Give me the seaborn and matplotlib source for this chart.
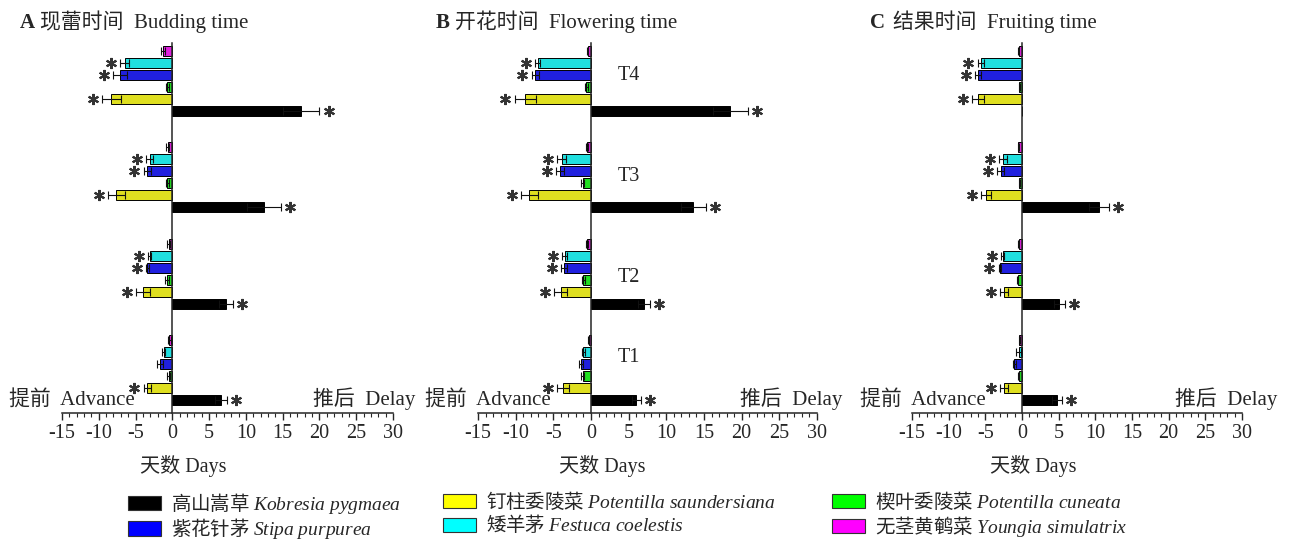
import numpy as np
import pandas as pd
import matplotlib
matplotlib.use('Agg')
import matplotlib.pyplot as plt
import seaborn as sns
from matplotlib.patches import Patch
from matplotlib.font_manager import FontProperties
from matplotlib.ticker import MultipleLocator

# --- data ---
periods = ['T1', 'T2', 'T3', 'T4']
species = ['kobresia', 'saundersiana', 'cuneata', 'stipa', 'festuca', 'youngia']
names_cn = ['高山嵩草', '钉柱委陵菜', '楔叶委陵菜', '紫花针茅', '矮羊茅', '无茎黄鹌菜']
names_lat = ['Kobresia pygmaea', 'Potentilla saundersiana', 'Potentilla cuneata',
             'Stipa purpurea', 'Festuca coelestis', 'Youngia simulatrix']
colors = ['#000000', '#FFFF00', '#00FF00', '#0000FF', '#00FFFF', '#FF00FF']

# rows follow `species`, columns follow `periods`
budding_mean = [[6.6, 7.3, 12.5, 17.5],
                [-3.4, -4.0, -7.6, -8.3],
                [-0.5, -0.7, -0.7, -0.7],
                [-1.7, -3.4, -3.4, -7.1],
                [-1.2, -3.1, -3.1, -6.5],
                [-0.4, -0.5, -0.6, -1.3]]
budding_err = [[0.8, 0.9, 2.3, 2.5],
               [0.5, 0.9, 1.1, 1.3],
               [0.2, 0.3, 0.2, 0.2],
               [0.4, 0.2, 0.5, 1.0],
               [0.2, 0.2, 0.5, 0.6],
               [0.2, 0.2, 0.2, 0.3]]
budding_sig = [[1, 1, 1, 1], [1, 1, 1, 1], [0, 0, 0, 0],
               [0, 1, 1, 1], [0, 1, 1, 1], [0, 0, 0, 0]]

flowering_mean = [[6.0, 7.0, 13.6, 18.5],
                  [-3.7, -4.0, -8.2, -8.7],
                  [-1.1, -1.0, -1.1, -0.6],
                  [-1.3, -3.6, -4.1, -7.4],
                  [-1.0, -3.5, -3.9, -7.1],
                  [-0.3, -0.5, -0.5, -0.45]]
flowering_err = [[0.6, 0.8, 1.6, 2.3],
                 [0.8, 0.85, 1.1, 1.4],
                 [0.2, 0.2, 0.2, 0.2],
                 [0.25, 0.35, 0.5, 0.45],
                 [0.2, 0.35, 0.6, 0.3],
                 [0.1, 0.1, 0.1, 0.1]]
flowering_sig = [[1, 1, 1, 1], [1, 1, 1, 1], [0, 0, 0, 0],
                 [0, 1, 1, 1], [0, 1, 1, 1], [0, 0, 0, 0]]

fruiting_mean = [[4.8, 5.1, 10.5, np.nan],
                 [-2.4, -2.4, -4.9, -6.0],
                 [-0.45, -0.6, -0.35, -0.35],
                 [-1.05, -3.0, -2.9, -6.0],
                 [-0.45, -2.6, -2.55, -5.6],
                 [-0.35, -0.45, -0.5, -0.45]]
fruiting_err = [[0.65, 0.7, 1.35, np.nan],
                [0.55, 0.55, 0.7, 0.8],
                [0.1, 0.1, 0.1, 0.1],
                [0.2, 0.2, 0.45, 0.45],
                [0.35, 0.2, 0.55, 0.45],
                [0.1, 0.1, 0.1, 0.1]]
fruiting_sig = [[1, 1, 1, 0], [1, 1, 1, 1], [0, 0, 0, 0],
                [0, 1, 1, 1], [0, 1, 1, 1], [0, 0, 0, 0]]

panel_letters = ['A', 'B', 'C']
panel_titles = ['现蕾时间  Budding time', '开花时间  Flowering time', '结果时间  Fruiting time']

# --- style ---
sns.set_style('ticks')
plt.rcParams['font.family'] = ['Liberation Serif', 'Noto Sans CJK SC']
plt.rcParams['axes.unicode_minus'] = False
plt.rcParams['mathtext.fontset'] = 'custom'
plt.rcParams['mathtext.it'] = 'Liberation Serif:italic'
plt.rcParams['mathtext.rm'] = 'Liberation Serif'

W, H = 1290, 544
fig = plt.figure(figsize=(W / 100, H / 100), dpi=100)

# axes boxes in pixels: (left, right) of the -15..30 span
ax_px = [(62, 393), (478, 817), (912, 1242)]
ax_top, ax_bot = 43, 413
axes = [fig.add_axes([l / W, 1 - ax_bot / H, (r - l) / W, (ax_bot - ax_top) / H])
        for l, r in ax_px]

period_order = ['T4', 'T3', 'T2', 'T1']
hue_order = names_cn[::-1]  # magenta on top inside each group
palette = dict(zip(names_cn, colors))

panels = [(budding_mean, budding_err, budding_sig),
          (flowering_mean, flowering_err, flowering_sig),
          (fruiting_mean, fruiting_err, fruiting_sig)]

for k, (ax, (mean, err, sig)) in enumerate(zip(axes, panels)):
    rows = []
    for i, sp in enumerate(names_cn):
        for j, p in enumerate(periods):
            rows.append({'species': sp, 'period': p, 'mean': mean[i][j],
                         'err': err[i][j], 'sig': sig[i][j]})
    df = pd.DataFrame(rows)
    df['plot_mean'] = df['mean'].fillna(0)

    sns.barplot(data=df, x='plot_mean', y='period', hue='species',
                order=period_order, hue_order=hue_order, palette=palette,
                orient='h', errorbar=None, width=0.75, gap=0.17,
                edgecolor='black', linewidth=0.7, legend=False, ax=ax)

    # error bars and significance stars at the bar ends
    for cont, sp in zip(ax.containers, hue_order):
        sub = df[df['species'] == sp].set_index('period')
        for bar, p in zip(cont, period_order):
            m, e, s = sub.loc[p, 'mean'], sub.loc[p, 'err'], sub.loc[p, 'sig']
            if np.isnan(m):
                continue
            yc = bar.get_y() + bar.get_height() / 2
            ax.errorbar(m, yc, xerr=e, fmt='none', ecolor='#111111',
                        elinewidth=0.8, capsize=3, capthick=0.8, zorder=4)
            if s:
                sx = m + np.sign(m) * (e + 1.25)
                ax.plot(sx, yc, ls='none', marker=(6, 2, 0), ms=8, mew=1.5,
                        color='#333333', zorder=5, clip_on=False)

    ax.set_xlim(-15, 30)
    ax.set_ylim(3.447, -0.395)
    ax.spines[['top', 'right']].set_visible(False)
    ax.spines['left'].set_position(('data', 0))
    ax.spines['left'].set_linewidth(1.1)
    ax.spines['bottom'].set_linewidth(1.1)
    ax.set_yticks([])
    ax.set_ylabel('')
    ax.xaxis.set_major_locator(MultipleLocator(5))
    ax.xaxis.set_minor_locator(MultipleLocator(1))
    ax.tick_params(axis='x', which='major', bottom=True, direction='out',
                   length=5, width=1, labelsize=14.5, pad=3)
    ax.tick_params(axis='x', which='minor', bottom=True, direction='out',
                   length=3, width=0.8)
    ax.set_xlabel('天数 Days', fontsize=14.5)
    ax.xaxis.set_label_coords((1.5 + 15) / 45, -(472 - ax_bot) / (ax_bot - ax_top))
    ax.xaxis.label.set_va('baseline')

    lx, tx = [(20, 40), (436, 455), (870, 893)][k]
    fig.text(lx / W, 1 - 28 / H, panel_letters[k], fontsize=15,
             fontweight='bold', ha='left', va='baseline')
    fig.text(tx / W, 1 - 28 / H, panel_titles[k], fontsize=15,
             ha='left', va='baseline')

    adv_x, del_x = [(9, 415), (425, 842), (860, 1277)][k]
    fig.text(adv_x / W, 1 - 405 / H, '提前  Advance', fontsize=15,
             ha='left', va='baseline')
    fig.text(del_x / W, 1 - 405 / H, '推后  Delay', fontsize=15,
             ha='right', va='baseline')

# period labels only on panel B
t_offsets = {'T4': -0.06, 'T3': -0.01, 'T2': 0.04, 'T1': -0.13}
for idx, p in enumerate(period_order):
    axes[1].text(5.0, idx + t_offsets[p], p, fontsize=14.5, ha='center', va='center')

# legend: three single-column legends, one per column of the reference
leg_cols = [[0, 3], [1, 4], [2, 5]]
leg_x = [128, 443, 832]
leg_font = FontProperties(family='Noto Sans CJK SC', size=14)
for col, x0 in zip(leg_cols, leg_x):
    handles = [Patch(facecolor=colors[i], edgecolor='#333333', linewidth=0.8) for i in col]
    labels = [names_cn[i] + ' $\\it{' + names_lat[i].replace(' ', '\\ ') + '}$' for i in col]
    leg = fig.legend(handles, labels, ncol=1, loc='upper left',
                     bbox_to_anchor=(x0 / W, 1 - 491 / H), frameon=False,
                     prop=leg_font, handlelength=1.7, handleheight=0.75,
                     handletextpad=0.5, labelspacing=0.02,
                     borderpad=0, borderaxespad=0)

fig.savefig('out.png', dpi=100)
